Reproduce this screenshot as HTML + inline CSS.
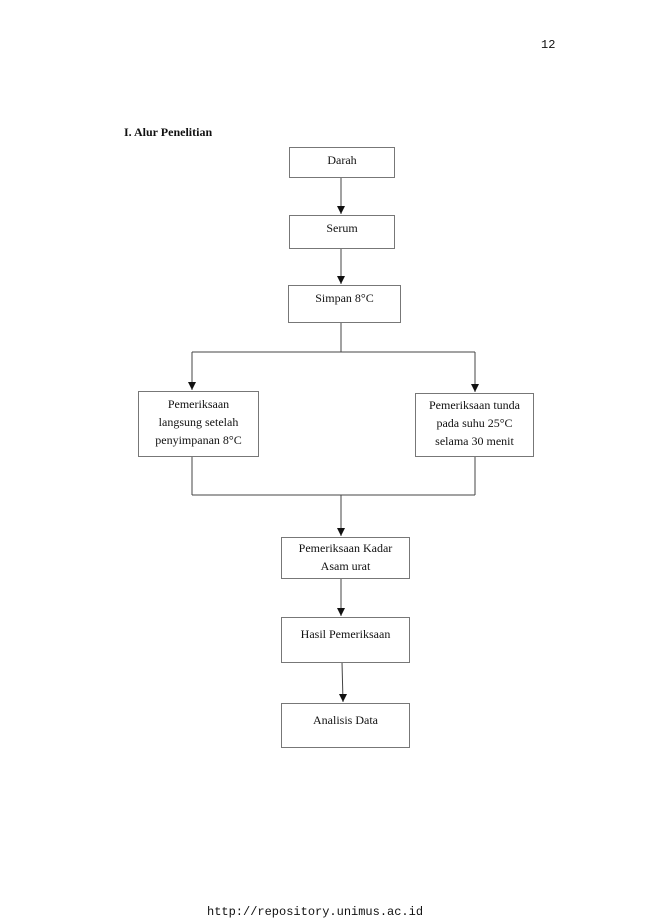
<!DOCTYPE html>
<html><head><style>
body{margin:0;width:650px;height:919px;background:#fff;position:relative;font-family:"Liberation Serif",serif;}
.t{position:absolute;color:#111;}
.b{position:absolute;border:1px solid #777;box-sizing:border-box;font-size:12px;text-align:center;line-height:18px;color:#111;}
</style></head><body>
<div class="t" style="left:541px;top:38px;font-family:'Liberation Mono',monospace;font-size:12px;">12</div>
<div class="t" style="left:124px;top:125px;font-size:12px;font-weight:bold;">I. Alur Penelitian</div>
<svg style="position:absolute;left:0;top:0" width="650" height="919">
<defs><marker id="a" markerWidth="8" markerHeight="8" refX="4" refY="8" markerUnits="userSpaceOnUse"><path d="M0,0 L8,0 L4,8 z" fill="#111"/></marker></defs>
<g stroke="#444" stroke-width="1" fill="none">
<line x1="341" y1="177" x2="341" y2="214" marker-end="url(#a)"/>
<line x1="341" y1="248" x2="341" y2="284" marker-end="url(#a)"/>
<line x1="341" y1="322" x2="341" y2="352"/>
<line x1="192" y1="352" x2="475" y2="352"/>
<line x1="192" y1="352" x2="192" y2="390" marker-end="url(#a)"/>
<line x1="475" y1="352" x2="475" y2="392" marker-end="url(#a)"/>
<line x1="192" y1="456" x2="192" y2="495"/>
<line x1="475" y1="456" x2="475" y2="495"/>
<line x1="192" y1="495" x2="475" y2="495"/>
<line x1="341" y1="495" x2="341" y2="536" marker-end="url(#a)"/>
<line x1="341" y1="578" x2="341" y2="616" marker-end="url(#a)"/>
<line x1="342" y1="662" x2="343" y2="702" marker-end="url(#a)"/>
</g></svg>
<div class="b" style="left:289px;top:147px;width:106px;height:31px;padding-top:3px;">Darah</div>
<div class="b" style="left:289px;top:215px;width:106px;height:34px;padding-top:3px;">Serum</div>
<div class="b" style="left:288px;top:285px;width:113px;height:38px;padding-top:3px;">Simpan 8°C</div>
<div class="b" style="left:138px;top:391px;width:121px;height:66px;padding-top:3px;">Pemeriksaan<br>langsung setelah<br>penyimpanan 8°C</div>
<div class="b" style="left:415px;top:393px;width:119px;height:64px;padding-top:2px;">Pemeriksaan tunda<br>pada suhu 25°C<br>selama 30 menit</div>
<div class="b" style="left:281px;top:537px;width:129px;height:42px;padding-top:1px;">Pemeriksaan Kadar<br>Asam urat</div>
<div class="b" style="left:281px;top:617px;width:129px;height:46px;padding-top:7px;">Hasil Pemeriksaan</div>
<div class="b" style="left:281px;top:703px;width:129px;height:45px;padding-top:7px;">Analisis Data</div>
<div class="t" style="left:207px;top:905px;font-family:'Liberation Mono',monospace;font-size:12px;">http://repository.unimus.ac.id</div>
</body></html>
